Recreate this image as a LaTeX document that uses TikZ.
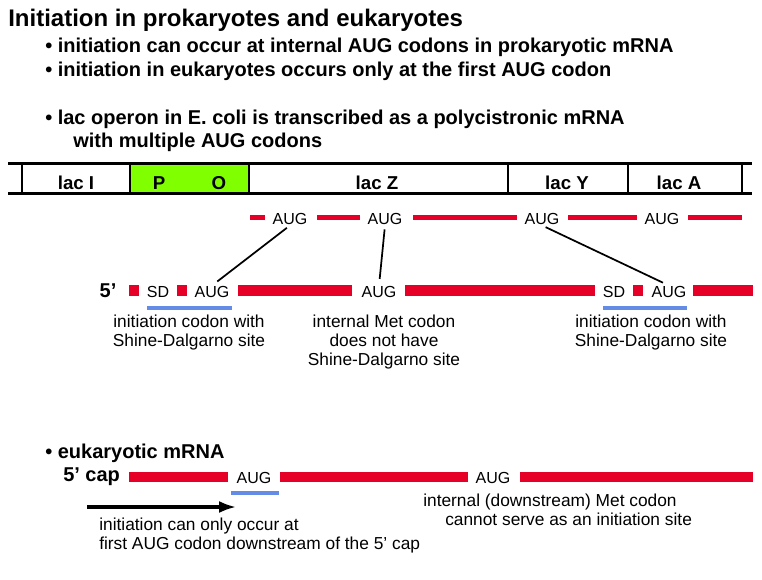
\documentclass[tikz,border=0pt]{standalone}
\usepackage{fontspec}
\setmainfont{Liberation Sans}
\usetikzlibrary{arrows.meta}
\definecolor{mrnared}{RGB}{230,0,40}
\definecolor{operongreen}{RGB}{128,255,0}
\definecolor{sdblue}{RGB}{100,140,230}

\begin{document}
\begin{tikzpicture}[x=0.75pt, y=-0.75pt,
  heading/.style={anchor=base west, inner sep=0pt, font=\fontsize{18}{20}\selectfont\bfseries},
  point/.style={anchor=base west, inner sep=0pt, font=\fontsize{15}{18}\selectfont\bfseries},
  gene/.style={anchor=base, inner sep=0pt, font=\fontsize{14}{16}\selectfont\bfseries},
  codon/.style={anchor=base, inner sep=0pt, font=\fontsize{12}{14}\selectfont},
  note/.style={inner sep=0pt, font=\fontsize{13}{14.25}\selectfont},
  mrna/.style={draw=mrnared, line width=#1},
  sdline/.style={draw=sdblue, line width=3pt},
  link/.style={draw=black, line width=1.3pt, shorten <=3pt, shorten >=5pt}]
  \useasboundingbox (0,0) rectangle (762,580);

  % heading and bullet points
  \node[heading] (title) at (8,27) {Initiation in prokaryotes and eukaryotes};
  \node[point] (pro) at (45,53) {• initiation can occur at internal AUG codons in prokaryotic mRNA};
  \node[point] (eu) at (45,77) {• initiation in eukaryotes occurs only at the first AUG codon};
  \node[point] (lac) at (45,125) {• lac operon in E. coli is transcribed as a polycistronic mRNA};
  \node[point] (lac2) at (73,148) {with multiple AUG codons};

  % operon map
  \fill[operongreen] (130,164) rectangle (249,194);
  \draw[line width=2.25pt] (8,164) -- (752,164) (8,194) -- (752,194);
  \foreach \x in {22,130,249,508,628,742}
    \draw[line width=2pt] (\x,164) -- (\x,194);
  \node[gene] (lacI) at (76,190) {lac I};
  \node[gene] (prom) at (159,190) {P};
  \node[gene] (oper) at (219,190) {O};
  \node[gene] (lacZ) at (377,190) {lac Z};
  \node[gene] (lacY) at (567,190) {lac Y};
  \node[gene] (lacA) at (679,190) {lac A};

  % AUG codons along the operon
  \foreach \a/\b in {250/265, 317/360, 413/517, 568/637, 688/742}
    \draw[mrna=3.75pt] (\a,218) -- (\b,218);
  \node[codon] (a1) at (290,225) {AUG};
  \node[codon] (a2) at (385,225) {AUG};
  \node[codon] (a3) at (542,225) {AUG};
  \node[codon] (a4) at (662,225) {AUG};

  % polycistronic mRNA
  \foreach \a/\b in {129/139, 177/187, 238/352, 405/595, 633/643, 693/753}
    \draw[mrna=8.25pt] (\a,291) -- (\b,291);
  \node[anchor=base, inner sep=0pt, font=\fontsize{15}{18}\selectfont\bfseries] (five) at (108,297) {5’};
  \node[codon] (sd1) at (158,297) {SD};
  \node[codon] (m1) at (212,297) {AUG};
  \node[codon] (m2) at (379,297) {AUG};
  \node[codon] (sd2) at (614,297) {SD};
  \node[codon] (m3) at (669,297) {AUG};
  \draw[link] (a1.south) -- (m1.north);
  \draw[link] (a2.south) -- (m2.north);
  \draw[link] (a3.south) -- (m3.north);
  \draw[sdline] (147,308) -- (232,308);
  \draw[sdline] (603,308) -- (687,308);
  \node[note, anchor=north, align=center] (cap1) at (189,315) {initiation codon with\\Shine-Dalgarno site};
  \node[note, anchor=north, align=center] (cap2) at (384,315) {internal Met codon\\does not have\\Shine-Dalgarno site};
  \node[note, anchor=north, align=center] (cap3) at (651,315) {initiation codon with\\Shine-Dalgarno site};

  % eukaryotic mRNA
  \node[point] (euk) at (45,458) {• eukaryotic mRNA};
  \node[point] (cap) at (63,481) {5’ cap};
  \foreach \a/\b in {129/228, 280/468, 520/753}
    \draw[mrna=7.5pt] (\a,477) -- (\b,477);
  \node[codon] (e1) at (254,483) {AUG};
  \node[codon] (e2) at (493,483) {AUG};
  \draw[sdline] (231,493) -- (279,493);
  \coordinate (scan) at (87,507);
  \draw[line width=3pt, -{Latex[length=13pt, width=9pt]}] (scan) -- (scan -| e1.west);
  \node[note, anchor=north west, align=left] (first) at (99,518) {initiation can only occur at\\first AUG codon downstream of the 5’ cap};
  \node[note, anchor=north west, align=left] (inner) at (423,494) {internal (downstream) Met codon\\\hspace*{16.5pt}cannot serve as an initiation site};
\end{tikzpicture}
\end{document}
